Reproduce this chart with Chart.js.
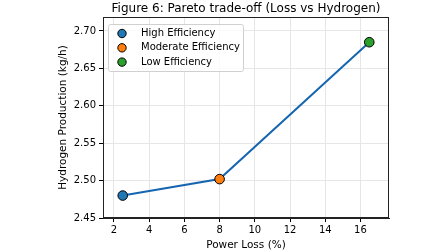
<!DOCTYPE html>
<html>
<head>
<meta charset="utf-8">
<script src="https://cdn.jsdelivr.net/npm/chart.js@4"></script>
<style>
  html, body { margin: 0; padding: 0; background: #fff; }
  #wrap { width: 448px; height: 252px; position: relative; }
</style>
</head>
<body>
<div id="wrap"><canvas id="c" width="448" height="252"></canvas></div>
<script>
const categories = ["High Efficiency", "Moderate Efficiency", "Low Efficiency"];
const powerLoss = [2.5, 8.0, 16.5];
const hydrogen = [2.480, 2.502, 2.685];
const pointColors = ["#1f77b4", "#ff7f0e", "#2ca02c"];
const xTicks = [2, 4, 6, 8, 10, 12, 14, 16];
const yTicks = [2.45, 2.50, 2.55, 2.60, 2.65, 2.70];
const titleText = "Figure 6: Pareto trade-off (Loss vs Hydrogen)";
const xTitle = "Power Loss (%)";
const yTitle = "Hydrogen Production (kg/h)";

const FONT = "'DejaVu Sans', sans-serif";

const lineData = powerLoss.map((x, i) => ({ x: x, y: hydrogen[i] }));
const pointSets = categories.map((c, i) => ({
  label: c,
  type: 'scatter',
  data: [{ x: powerLoss[i], y: hydrogen[i] }],
  backgroundColor: pointColors[i],
  borderColor: '#000',
  borderWidth: 1,
  pointRadius: 4.8,
  pointHoverRadius: 4.8,
  order: 0
}));

const framePlugin = {
  id: 'frame',
  afterDraw(chart) {
    const { ctx, chartArea: a } = chart;
    ctx.save();
    ctx.strokeStyle = '#222';
    ctx.lineWidth = 1;
    ctx.strokeRect(a.left + 0.5, a.top + 0.5, a.right - a.left - 1, a.bottom - a.top - 1);
    ctx.fillStyle = '#000';
    ctx.font = "12px " + FONT;
    ctx.textAlign = 'center';
    ctx.textBaseline = 'middle';
    ctx.fillText(titleText, (a.left + a.right) / 2, 9);
    const lx = 108, ly = 24, lw = 135, lh = 47;
    ctx.fillStyle = 'rgba(255,255,255,0.8)';
    ctx.strokeStyle = '#d0d0d0';
    ctx.lineWidth = 1;
    ctx.beginPath();
    ctx.roundRect(lx + 0.5, ly + 0.5, lw, lh, 2);
    ctx.fill();
    ctx.stroke();
    ctx.font = "10px " + FONT;
    ctx.textAlign = 'left';
    categories.forEach((c, i) => {
      const y = ly + 9.5 + i * 14.3;
      ctx.beginPath();
      ctx.arc(122, y, 4.2, 0, Math.PI * 2);
      ctx.fillStyle = pointColors[i];
      ctx.fill();
      ctx.strokeStyle = '#000';
      ctx.stroke();
      ctx.fillStyle = '#000';
      ctx.fillText(c, 141, y);
    });
    ctx.restore();
  }
};

new Chart(document.getElementById('c'), {
  type: 'scatter',
  data: {
    datasets: [
      {
        label: 'line',
        type: 'line',
        data: lineData,
        borderColor: '#1565b0',
        borderWidth: 2,
        pointRadius: 0,
        fill: false,
        tension: 0,
        order: 1
      },
      ...pointSets
    ]
  },
  options: {
    responsive: false,
    animation: false,
    layout: { padding: { left: 57, right: 59, top: 17, bottom: 0 } },
    plugins: {
      legend: { display: false },
      title: { display: false },
      tooltip: { enabled: false }
    },
    scales: {
      x: {
        type: 'linear',
        min: 1.38,
        max: 17.62,
        afterBuildTicks(s) { s.ticks = xTicks.map(v => ({ value: v })); },
        afterFit(s) { s.height = 34; },
        ticks: {
          color: '#000',
          font: { family: FONT, size: 10 },
          padding: 2,
          maxRotation: 0,
          callback: v => String(v)
        },
        grid: { color: '#e6e6e6', tickColor: '#000', tickLength: 4, lineWidth: 1 },
        border: { color: '#222' },
        title: {
          display: true, text: xTitle, color: '#000',
          font: { family: FONT, size: 10.5 }, padding: { top: 1, bottom: 0 }
        }
      },
      y: {
        type: 'linear',
        min: 2.45,
        max: 2.7187,
        afterBuildTicks(s) { s.ticks = yTicks.map(v => ({ value: v })); },
        afterFit(s) { s.width = 46; },
        ticks: {
          color: '#000',
          font: { family: FONT, size: 10 },
          padding: 3,
          callback: v => Number(v).toFixed(2)
        },
        grid: { color: '#e6e6e6', tickColor: '#000', tickLength: 4, lineWidth: 1 },
        border: { color: '#222' },
        title: {
          display: true, text: yTitle, color: '#000',
          font: { family: FONT, size: 10.5 }, padding: { top: 0, bottom: 0 }
        }
      }
    }
  },
  plugins: [framePlugin]
});
</script>
</body>
</html>
